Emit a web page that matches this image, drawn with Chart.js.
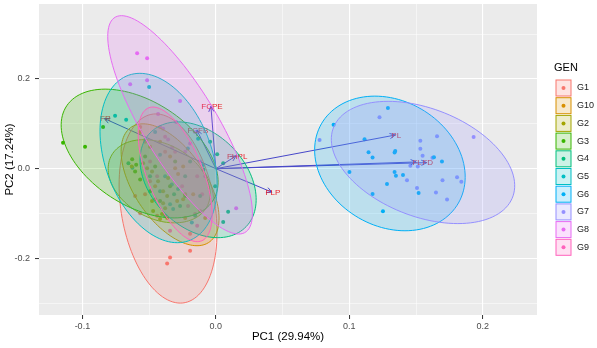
<!DOCTYPE html>
<html>
<head>
<meta charset="utf-8">
<script src="https://cdn.jsdelivr.net/npm/chart.js@4.4.1/dist/chart.umd.min.js"></script>
<style>
  html, body { margin: 0; padding: 0; background: #fff; }
  canvas { display: block; }
</style>
</head>
<body>
<canvas id="pca" width="597" height="348"></canvas>
<script>
// ==== data ====
const groups = ['G1', 'G10', 'G2', 'G3', 'G4', 'G5', 'G6', 'G7', 'G8', 'G9'];
const colors = ['#F8766D', '#D89000', '#A3A500', '#39B600', '#00BF7D', '#00BFC4', '#00B0F6', '#9590FF', '#E76BF3', '#FF62BC'];

// individuals (PC1, PC2) per genotype
const g1 = [[-0.0193,-0.183],[-0.0343,-0.198],[-0.0365,-0.211],[-0.0193,-0.145],[-0.0440,-0.105],[-0.0530,0.060],
  [-0.0567,0.093],[-0.0455,-0.068],[-0.0380,0.038],[-0.0493,-0.028],[-0.0118,-0.094],[-0.0605,-0.061],
  [-0.0567,-0.099],[-0.0530,-0.057]];
const g10 = [[-0.0305,0.001],[-0.0283,-0.012],[-0.0245,0.005],[-0.0290,-0.072],[-0.0245,-0.068],[-0.0365,-0.110],
  [-0.0230,-0.110],[-0.0080,-0.110],[-0.0170,-0.057],[-0.0493,0.049],[-0.0418,0.060],[-0.0567,0.082],
  [-0.0343,0.027],[-0.0455,-0.039]];
const g2 = [[-0.0630,0.005],[-0.0545,0.012],[-0.0515,0.001],[-0.0478,-0.006],[-0.0433,-0.028],[-0.0358,-0.021],
  [-0.0395,-0.050],[-0.0365,-0.061],[-0.0478,-0.072],[-0.0395,-0.077],[-0.0380,-0.088],[-0.0470,-0.094],
  [-0.0403,-0.101],[-0.0418,-0.112],[-0.0230,-0.057]];
const g3 = [[-0.0845,0.093],[-0.1145,0.058],[-0.0980,0.049],[-0.0597,0.009],[-0.0605,-0.006],[-0.0627,0.021],
  [-0.0530,0.027],[-0.0455,0.005],[-0.0567,-0.024],[-0.0343,-0.039],[-0.0418,-0.072],[-0.0493,-0.050],
  [-0.0305,0.016],[-0.0230,-0.061]];
const g4 = [[0.0010,0.032],[0.0055,0.012],[-0.0005,-0.039],[0.0092,-0.096],[0.0055,-0.119],[-0.0093,-0.002],
  [-0.0313,-0.057],[-0.0268,-0.083],[-0.0655,0.012],[-0.0193,0.016],[-0.0418,-0.050],[-0.0118,-0.061],
  [-0.0230,-0.017],[-0.0380,-0.105],[-0.0043,0.060],[-0.0493,-0.017],[-0.0155,-0.105]];
const g5 = [[-0.0500,0.182],[-0.0755,0.118],[-0.0672,0.109],[-0.0133,0.067],[-0.0418,0.031],[-0.0625,0.002],
  [-0.0380,-0.017],[-0.0330,-0.035],[-0.0095,0.008],[-0.0320,-0.090],[-0.0343,-0.079],[-0.0180,-0.120],
  [-0.0530,0.064],[-0.0283,-0.045],[-0.0455,0.082],[-0.0210,0.045]];
const g6 = [[0.1289,0.1353],[0.0882,0.0978],[0.1114,0.0658],[0.1144,0.0366],[0.1174,0.0249],[0.1344,0.0397],
  [0.1339,0.0360],[0.1001,-0.0071],[0.1339,-0.0075],[0.1349,-0.0155],[0.1402,-0.0141],[0.1282,-0.0340],
  [0.1174,-0.0561],[0.1252,-0.0949],[0.1519,-0.0539],[0.1694,0.0161],[0.1634,0.0256]];
const g7 = [[0.1226,0.1148],[0.0777,0.0640],[0.1532,0.0625],[0.1657,0.0724],[0.1931,0.0709],[0.1532,0.0442],
  [0.1549,0.0289],[0.1623,0.0243],[0.1457,0.0068],[0.1513,0.0051],[0.1807,-0.0192],[0.1839,-0.0291],
  [0.1698,-0.0258],[0.1432,-0.0258],[0.1507,-0.0428],[0.1649,-0.0528],[0.1732,-0.0684]];
const g8 = [[-0.0590,0.257],[-0.0515,0.246],[-0.0642,0.188],[-0.0515,0.197],[-0.0268,0.151],[0.0152,-0.088],
  [-0.0395,0.089],[-0.0193,0.056],[-0.0358,0.065],[-0.0433,0.122],[-0.0298,0.104],[-0.0118,0.016],
  [-0.0230,0.038],[-0.0080,-0.017],[-0.0328,0.047],[-0.0155,0.082]];
const g9 = [[-0.0140,-0.017],[-0.0103,-0.057],[-0.0155,-0.101],[-0.0140,-0.127],[-0.0418,0.093],[-0.0380,0.071],
  [-0.0305,0.038],[-0.0493,0.016],[-0.0253,-0.039],[-0.0343,-0.138],[-0.0208,-0.083],[-0.0440,-0.017]];
const points = [g1, g10, g2, g3, g4, g5, g6, g7, g8, g9];

// concentration ellipses: centre, half extents, correlation
const ellCx = [-0.0358, -0.0343, -0.0425, -0.0571, -0.0133, -0.0429, 0.1304, 0.1552, -0.0268, -0.0305];
const ellCy = [-0.0887, -0.0358, -0.0280, 0.0338, -0.0247, 0.0238, 0.0117, 0.0139, 0.0977, -0.0126];
const ellSx = [0.0367, 0.0367, 0.0382, 0.0588, 0.0435, 0.0439, 0.0564, 0.0687, 0.0542, 0.0277];
const ellSy = [0.2108, 0.1358, 0.0927, 0.1435, 0.1290, 0.1887, 0.1500, 0.1362, 0.2433, 0.1500];
const ellR  = [-0.25, -0.55, -0.30, -0.44, -0.34, -0.32, -0.20, -0.38, -0.81, -0.60];

// variables (arrows)
const varNames = ['FR', 'FCPE', 'FCFB', 'FHPL', 'FLP', 'PL', 'FL', 'FD'];
const varX = [-0.0835, -0.0037, -0.0142, 0.0152, 0.0420, 0.1344, 0.1500, 0.1580];
const varY = [0.1117, 0.1390, 0.0860, 0.0287, -0.0523, 0.0750, 0.0150, 0.0135];

// axes
const xBreaks = [-0.1, -0.05, 0, 0.05, 0.1, 0.15, 0.2];
const xLabels = {'-0.1': '-0.1', '0': '0.0', '0.1': '0.1', '0.2': '0.2'};
const yBreaks = [-0.3, -0.2, -0.1, 0, 0.1, 0.2, 0.3];
const yLabels = {'-0.2': '-0.2', '0': '0.0', '0.2': '0.2'};

const FONT = "'Liberation Sans', Arial, sans-serif";

function rgba(hex, a) {
  const n = parseInt(hex.slice(1), 16);
  return `rgba(${(n >> 16) & 255},${(n >> 8) & 255},${n & 255},${a})`;
}
function keyOf(v) { return String(Math.round(v * 100) / 100); }
const isMajorX = v => keyOf(v) in xLabels;
const isMajorY = v => keyOf(v) in yLabels;

// ==== extra drawing: panel, arrows, ellipses, titles, legend ====
const biplotLayer = {
  id: 'biplotLayer',
  beforeDraw(chart) {
    const { ctx, chartArea: a } = chart;
    ctx.save();
    ctx.fillStyle = '#EBEBEB';
    ctx.fillRect(a.left, a.top, a.right - a.left, a.bottom - a.top);
    ctx.restore();
  },
  afterDatasetsDraw(chart) {
    const { ctx } = chart;
    const sx = chart.scales.x, sy = chart.scales.y;
    const x0 = sx.getPixelForValue(0), y0 = sy.getPixelForValue(0);

    // arrows
    ctx.save();
    ctx.strokeStyle = '#4747C9';
    ctx.lineWidth = 1;
    varNames.forEach((n, i) => {
      const px = sx.getPixelForValue(varX[i]), py = sy.getPixelForValue(varY[i]);
      ctx.beginPath();
      ctx.moveTo(x0, y0);
      ctx.lineTo(px, py);
      const ang = Math.atan2(py - y0, px - x0), hl = 6;
      ctx.moveTo(px - hl * Math.cos(ang - 0.45), py - hl * Math.sin(ang - 0.45));
      ctx.lineTo(px, py);
      ctx.lineTo(px - hl * Math.cos(ang + 0.45), py - hl * Math.sin(ang + 0.45));
      ctx.stroke();
    });
    ctx.fillStyle = '#E8202A';
    ctx.font = '8px ' + FONT;
    ctx.textAlign = 'center';
    ctx.textBaseline = 'middle';
    varNames.forEach((n, i) => {
      ctx.fillText(n, sx.getPixelForValue(varX[i]) + 1, sy.getPixelForValue(varY[i]) + 0.5);
    });
    ctx.restore();

    // ellipses on top
    ctx.save();
    groups.forEach((g, i) => {
      const r = ellR[i], q = Math.sqrt(1 - r * r);
      ctx.beginPath();
      for (let k = 0; k <= 120; k++) {
        const t = k / 120 * Math.PI * 2;
        const dx = ellCx[i] + ellSx[i] * (r * Math.cos(t) + q * Math.sin(t));
        const dy = ellCy[i] + ellSy[i] * Math.cos(t);
        const px = sx.getPixelForValue(dx), py = sy.getPixelForValue(dy);
        if (k === 0) ctx.moveTo(px, py); else ctx.lineTo(px, py);
      }
      ctx.closePath();
      ctx.fillStyle = rgba(colors[i], 0.2);
      ctx.fill();
      ctx.strokeStyle = colors[i];
      ctx.lineWidth = 1;
      ctx.stroke();
    });
    ctx.restore();
  },
  afterDraw(chart) {
    const { ctx, chartArea: a } = chart;
    ctx.save();
    ctx.fillStyle = '#000';
    ctx.font = '11.5px ' + FONT;
    ctx.textAlign = 'center';
    ctx.textBaseline = 'middle';
    ctx.fillText('PC1 (29.94%)', (a.left + a.right) / 2, 337);
    ctx.translate(10, (a.top + a.bottom) / 2);
    ctx.rotate(-Math.PI / 2);
    ctx.fillText('PC2 (17.24%)', 0, 0);
    ctx.restore();

    // legend
    ctx.save();
    ctx.font = '11px ' + FONT;
    ctx.fillStyle = '#000';
    ctx.textAlign = 'left';
    ctx.textBaseline = 'middle';
    ctx.fillText('GEN', 554, 68);
    ctx.font = '9px ' + FONT;
    groups.forEach((g, i) => {
      const top = 79.5 + i * 17.7;
      ctx.fillStyle = '#fff';
      ctx.fillRect(555, top, 17, 17);
      ctx.fillStyle = rgba(colors[i], 0.2);
      ctx.fillRect(556, top + 0.5, 15, 16);
      ctx.strokeStyle = colors[i];
      ctx.lineWidth = 1;
      ctx.strokeRect(556, top + 0.5, 15, 16);
      ctx.beginPath();
      ctx.arc(563.5, top + 8.5, 2, 0, Math.PI * 2);
      ctx.fillStyle = colors[i];
      ctx.fill();
      ctx.fillStyle = '#1a1a1a';
      ctx.fillText(g, 577, top + 8.5);
    });
    ctx.restore();
  }
};

const gridWidth = major => major ? 1.1 : 0.5;

new Chart(document.getElementById('pca').getContext('2d'), {
  type: 'scatter',
  data: {
    datasets: groups.map((g, i) => ({
      label: g,
      data: points[i].map(p => ({ x: p[0], y: p[1] })),
      backgroundColor: colors[i],
      borderWidth: 0,
      pointRadius: 2
    }))
  },
  options: {
    responsive: false,
    animation: false,
    devicePixelRatio: 1,
    layout: { padding: { left: 0, right: 60, top: 1, bottom: 0 } },
    plugins: { legend: { display: false }, tooltip: { enabled: false } },
    scales: {
      x: {
        type: 'linear',
        min: -0.1325,
        max: 0.2406,
        afterBuildTicks: s => { s.ticks = xBreaks.map(v => ({ value: v })); },
        afterFit: s => { s.height = 33; s.paddingLeft = 0; s.paddingRight = 0; },
        border: { display: false },
        grid: {
          color: '#FFFFFF',
          lineWidth: c => gridWidth(isMajorX(c.tick.value)),
          tickColor: c => isMajorX(c.tick.value) ? '#333333' : 'rgba(0,0,0,0)',
          tickLength: 4,
          tickWidth: 1
        },
        ticks: {
          autoSkip: false,
          maxRotation: 0,
          padding: 2,
          color: '#4D4D4D',
          font: { size: 9, family: FONT },
          callback: v => xLabels[keyOf(v)] || ''
        }
      },
      y: {
        type: 'linear',
        min: -0.326,
        max: 0.367,
        afterBuildTicks: s => { s.ticks = yBreaks.map(v => ({ value: v })); },
        afterFit: s => { s.width = 39; s.paddingTop = 0; s.paddingBottom = 0; },
        border: { display: false },
        grid: {
          color: '#FFFFFF',
          lineWidth: c => gridWidth(isMajorY(c.tick.value)),
          tickColor: c => isMajorY(c.tick.value) ? '#333333' : 'rgba(0,0,0,0)',
          tickLength: 4,
          tickWidth: 1
        },
        ticks: {
          autoSkip: false,
          padding: 5,
          color: '#4D4D4D',
          font: { size: 9, family: FONT },
          callback: v => yLabels[keyOf(v)] || ''
        }
      }
    }
  },
  plugins: [biplotLayer]
});
</script>
</body>
</html>
